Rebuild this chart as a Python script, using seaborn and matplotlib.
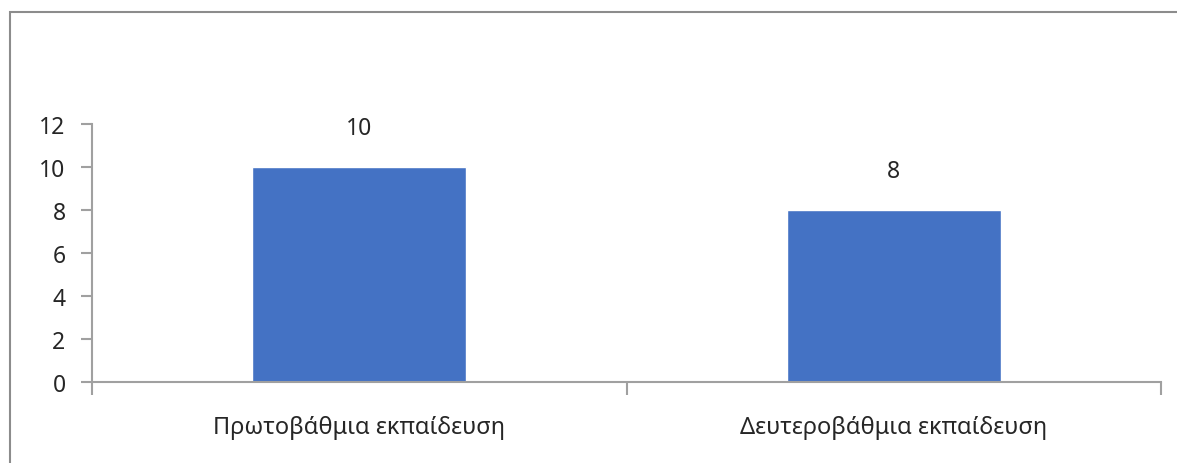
import matplotlib
matplotlib.use("Agg")
import matplotlib.pyplot as plt
import seaborn as sns
import pandas as pd
from matplotlib.patches import Rectangle

categories = ["Πρωτοβάθμια εκπαίδευση", "Δευτεροβάθμια εκπαίδευση"]
values = [10, 8]
y_ticks = [0, 2, 4, 6, 8, 10, 12]

sns.set_style("white")
plt.rcParams["font.family"] = ["Noto Sans", "DejaVu Sans"]

df = pd.DataFrame({"level": categories, "count": values})

W, H = 1177, 464
fig = plt.figure(figsize=(W / 100, H / 100), dpi=100)
fig.patch.set_facecolor("white")

# outer chart frame (left and top edges visible)
frame = Rectangle((10 / W, -0.1), 1.2, (H - 13) / H + 0.1,
                  transform=fig.transFigure, fill=False,
                  edgecolor="#8c8c8c", linewidth=1.5)
fig.patches.append(frame)

ax = fig.add_axes([92 / W, 1 - 383 / H, (1161 - 92) / W, (383 - 125) / H])
sns.barplot(data=df, x="level", y="count", color="#4472C4", width=0.4,
            saturation=1, ax=ax)

axis_col = "#a0a0a0"
fs = 16.5
ax.set_xlim(-0.5, len(categories) - 0.5)
ax.set_ylim(0, 12)
ax.set_yticks(y_ticks)
ax.set_yticklabels([str(t) for t in y_ticks], fontsize=fs)

# category boundary ticks with labels centred between them
ax.set_xticks([i - 0.5 for i in range(len(categories) + 1)])
ax.set_xticklabels([])
ax.set_xticks(range(len(categories)), minor=True)
ax.set_xticklabels(categories, minor=True, fontsize=17)
ax.tick_params(axis="x", which="major", length=9, width=1.5, color=axis_col,
               direction="out", bottom=True)
ax.tick_params(axis="x", which="minor", length=0, pad=24)
ax.tick_params(axis="y", length=8, width=1.5, color=axis_col,
               direction="out", left=True, pad=11)

for side in ["top", "right"]:
    ax.spines[side].set_visible(False)
for side in ["left", "bottom"]:
    ax.spines[side].set_color(axis_col)
    ax.spines[side].set_linewidth(1.5)

ax.set_xlabel("")
ax.set_ylabel("")

for i, v in enumerate(values):
    ax.annotate(str(v), (i, v), xytext=(0, 28), textcoords="offset points",
                ha="center", va="center", fontsize=fs)

fig.savefig("out.png", dpi=100, facecolor="white")
